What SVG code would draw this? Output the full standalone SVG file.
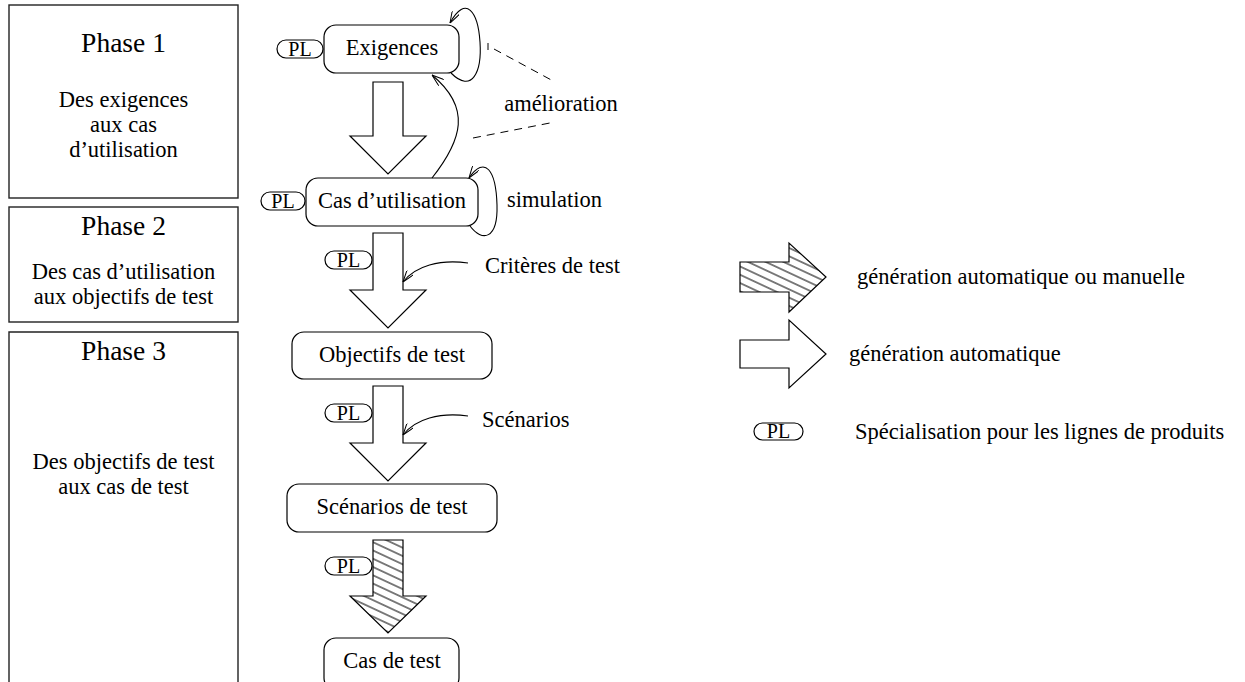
<svg xmlns="http://www.w3.org/2000/svg" width="1245" height="682" viewBox="0 0 1245 682">
<style>
text{font-family:"Liberation Serif","Times New Roman",serif;fill:#000;text-anchor:middle}
.ph{font-size:27.5px}
.t{font-size:22.5px}
.tl{font-size:22.5px;text-anchor:start}
.pl{font-size:20px}
.box{fill:#fff;stroke:#000;stroke-width:1.2}
.pbox{fill:none;stroke:#222;stroke-width:1.4}
.stad{fill:#fff;stroke:#000;stroke-width:1.2}
.blk{fill:#fff;stroke:#000;stroke-width:1.2;stroke-linejoin:miter}
.hat{fill:url(#hatch);stroke:#000;stroke-width:1.2}
.ln{fill:none;stroke:#000;stroke-width:1.1}
.dash{fill:none;stroke:#000;stroke-width:1;stroke-dasharray:8 6}
</style>
<defs>
<pattern id="hatch" width="8" height="7.5" patternUnits="userSpaceOnUse" patternTransform="rotate(25)">
<rect width="8" height="7.5" fill="#fff"/>
<line x1="0" y1="3.75" x2="8" y2="3.75" stroke="#000" stroke-width="1"/>
</pattern>
<marker id="ah" viewBox="0 0 12 8" refX="12" refY="4" markerWidth="12" markerHeight="8" orient="auto" markerUnits="userSpaceOnUse">
<path d="M0,0 L12,4 L0,8" fill="none" stroke="#000" stroke-width="1"/>
</marker>
</defs>
<rect width="1245" height="682" fill="#fff"/>

<g id="phase1">
<rect class="pbox" x="9" y="5" width="229" height="193"/>
<text class="ph" x="123.5" y="52">Phase 1</text>
<text class="t" x="123.5" y="107">Des exigences</text>
<text class="t" x="123.5" y="132">aux cas</text>
<text class="t" x="123.5" y="157">d’utilisation</text>
</g>
<g id="phase2">
<rect class="pbox" x="9" y="207" width="229" height="115"/>
<text class="ph" x="123.5" y="235">Phase 2</text>
<text class="t" x="123.5" y="279">Des cas d’utilisation</text>
<text class="t" x="123.5" y="304">aux objectifs de test</text>
</g>
<g id="phase3">
<path class="pbox" d="M9,690 L9,332 L238,332 L238,690"/>
<text class="ph" x="123.5" y="360">Phase 3</text>
<text class="t" x="123.5" y="469">Des objectifs de test</text>
<text class="t" x="123.5" y="494">aux cas de test</text>
</g>

<g id="exigences">
<rect class="stad" x="277" y="40" width="46" height="18" rx="9"/>
<text class="pl" x="300" y="56">PL</text>
<rect class="box" x="324" y="25" width="135" height="48" rx="12"/>
<text class="t" x="392" y="55">Exigences</text>
</g>
<g id="cas-utilisation">
<rect class="stad" x="261" y="192" width="44" height="18" rx="9"/>
<text class="pl" x="283" y="208">PL</text>
<rect class="box" x="306" y="178" width="172" height="48" rx="12"/>
<text class="t" x="392" y="208">Cas d’utilisation</text>
</g>
<g id="objectifs">
<rect class="box" x="292" y="332" width="200" height="47" rx="12"/>
<text class="t" x="392" y="362">Objectifs de test</text>
</g>
<g id="scenarios-test">
<rect class="box" x="287" y="484" width="210" height="48" rx="12"/>
<text class="t" x="392" y="514">Scénarios de test</text>
</g>
<g id="cas-test">
<rect class="box" x="324" y="638" width="135" height="52" rx="12"/>
<text class="t" x="392" y="668">Cas de test</text>
</g>

<g id="connectors">
<path class="blk" d="M373,82 L403,82 L403,136 L426,136 L388,174 L350,136 L373,136 Z"/>
<path class="blk" d="M373,233 L403,233 L403,290 L426,290 L388,328 L350,290 L373,290 Z"/>
<path class="blk" d="M373,386 L403,386 L403,443 L426,443 L388,481 L350,443 L373,443 Z"/>
<path class="hat" d="M373,540 L403,540 L403,596 L426,596 L388,633 L350,596 L373,596 Z"/>
<rect class="stad" x="325" y="251" width="47" height="18" rx="9"/>
<text class="pl" x="348.5" y="267">PL</text>
<rect class="stad" x="325" y="404" width="47" height="18" rx="9"/>
<text class="pl" x="348.5" y="420">PL</text>
<rect class="stad" x="325" y="557" width="47" height="18" rx="9"/>
<text class="pl" x="348.5" y="573">PL</text>
<path class="ln" d="M451,73 C472,94 482,72 480,42 C478,12 466,-6 450,23" marker-end="url(#ah)"/>
<path class="ln" d="M470,226 C482,242 498,240 497,205 C496,170 485,155 469,178" marker-end="url(#ah)"/>
<path class="ln" d="M432,178 C462,140 472,108 432,75" marker-end="url(#ah)"/>
<path class="ln" d="M468,263 C440,259 415,266 403,282" marker-end="url(#ah)"/>
<path class="ln" d="M468,416 C440,412 415,419 403,435" marker-end="url(#ah)"/>
<path class="dash" d="M488,43 L488,50 M494,49 L555,82"/>
<path class="dash" d="M473,138 L555,122"/>
<text class="t" x="561" y="111">amélioration</text>
<text class="tl" x="507" y="207">simulation</text>
<text class="tl" x="485" y="273">Critères de test</text>
<text class="tl" x="482" y="427">Scénarios</text>
</g>

<g id="legend">
<path class="hat" d="M740,262 L789,262 L789,243 L826,277 L789,312 L789,292 L740,292 Z"/>
<text class="tl" x="857" y="284">génération automatique ou manuelle</text>
<path class="blk" d="M740,340 L789,340 L789,320 L826,354 L789,388 L789,368 L740,368 Z"/>
<text class="tl" x="849" y="361">génération automatique</text>
<rect class="stad" x="754" y="423" width="49" height="17" rx="8.5"/>
<text class="pl" x="778.5" y="438">PL</text>
<text class="tl" x="855" y="439">Spécialisation pour les lignes de produits</text>
</g>
</svg>
